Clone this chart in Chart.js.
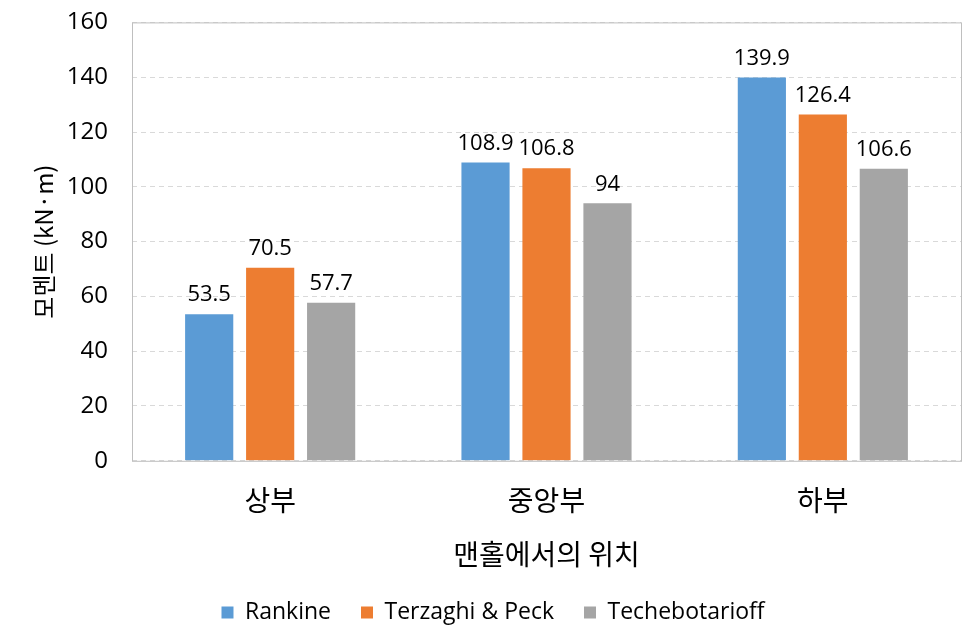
<!DOCTYPE html>
<html>
<head>
<meta charset="utf-8">
<script src="https://cdn.jsdelivr.net/npm/chart.js"></script>
<style>
  html, body { margin: 0; padding: 0; background: #fff; overflow: hidden; }
  #wrap { width: 976px; height: 637px; }
</style>
</head>
<body>
<div id="wrap"><canvas id="barchart"></canvas></div>
<script>
// data
const categories = ['상부', '중앙부', '하부'];
const rankine = [53.5, 108.9, 139.9];
const terzaghi = [70.5, 106.8, 126.4];
const techebo = [57.7, 94, 106.6];
const seriesNames = ['Rankine', 'Terzaghi & Peck', 'Techebotarioff'];
const yTicks = [0, 20, 40, 60, 80, 100, 120, 140, 160];

const numFont = "'Open Sans', 'Noto Sans', sans-serif";
const korFont = "'Noto Sans CJK KR', sans-serif";

// value labels on top of each bar
const barLabels = {
  id: 'barLabels',
  afterDatasetsDraw(chart) {
    const ctx = chart.ctx;
    ctx.save();
    ctx.font = '22px ' + numFont;
    ctx.fillStyle = '#000';
    ctx.textAlign = 'center';
    ctx.textBaseline = 'bottom';
    chart.data.datasets.forEach((ds, i) => {
      chart.getDatasetMeta(i).data.forEach((bar, j) => {
        ctx.fillText(String(ds.data[j]), bar.x, bar.y - 8);
      });
    });
    ctx.restore();
  }
};

// grey frame round the plot area
const frame = {
  id: 'frame',
  afterDraw(chart) {
    const a = chart.chartArea;
    const ctx = chart.ctx;
    ctx.save();
    ctx.strokeStyle = '#bfbfbf';
    ctx.lineWidth = 1;
    ctx.strokeRect(a.left + 0.5, a.top + 0.5, a.right - a.left, a.bottom - a.top);
    ctx.restore();
  }
};

const data = {
  labels: categories,
  datasets: [
    { label: seriesNames[0], data: rankine, backgroundColor: '#5b9bd5' },
    { label: seriesNames[1], data: terzaghi, backgroundColor: '#ed7d31' },
    { label: seriesNames[2], data: techebo, backgroundColor: '#a5a5a5' }
  ]
};

const config = {
  type: 'bar',
  data: data,
  options: {
    responsive: true,
    maintainAspectRatio: false,
    animation: false,
    layout: { padding: { left: 25, right: 15, top: 0, bottom: 3 } },
    datasets: { bar: { categoryPercentage: 0.662, barPercentage: 0.79 } },
    scales: {
      x: {
        grid: { display: false },
        border: { display: false },
        ticks: { color: '#000', font: { family: korFont, size: 28 }, padding: 15 },
        title: { display: true, text: '맨홀에서의 위치', color: '#000', font: { family: korFont, size: 28 }, padding: { top: 5, bottom: 0 } }
      },
      y: {
        min: 0,
        max: 160,
        afterBuildTicks: (axis) => { axis.ticks = yTicks.map(v => ({ value: v })); },
        afterFit: (axis) => { axis.width = 107; },
        // transparent tick marks give the label gap without padding the top
        grid: { color: '#d9d9d9', drawTicks: true, tickLength: 16, tickColor: 'rgba(0,0,0,0)' },
        border: { display: false, dash: [5, 4] },
        ticks: { color: '#000', font: { family: numFont, size: 24 }, padding: 8 },
        title: { display: true, text: '모멘트 (kN·m)', color: '#000', font: { family: korFont, size: 24 }, padding: { top: 4, bottom: 6 } }
      }
    },
    plugins: {
      legend: {
        position: 'bottom',
        labels: {
          color: '#000',
          font: { family: numFont, size: 23 },
          boxWidth: 12,
          boxHeight: 12,
          padding: 30
        }
      },
      tooltip: { enabled: false }
    }
  },
  plugins: [barLabels, frame]
};

const canvas = document.getElementById('barchart');
const barchart = new Chart(canvas, config);
</script>
</body>
</html>
